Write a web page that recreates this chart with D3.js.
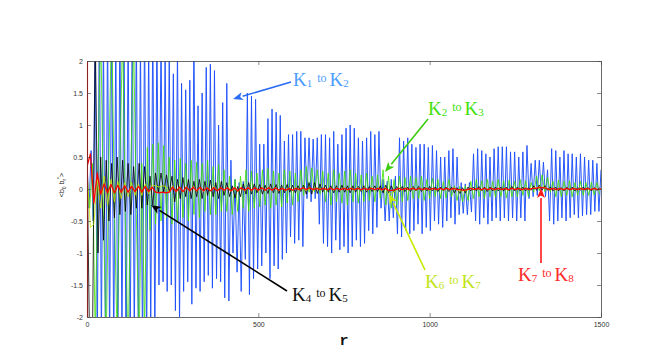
<!DOCTYPE html>
<html>
<head>
<meta charset="utf-8">
<script src="https://cdn.jsdelivr.net/npm/d3@7"></script>
<style>
  body { margin: 0; background: #fff; }
</style>
</head>
<body>
<div id="chart"></div>
<script>
// ---- data: <b_0 b_r*> against r, one array per transition ----
// every series is sampled on a regular r grid (step given next to it)
const blueStep = 6;   // K1 to K2
const blueVals = [
  0.4,-0.3, 0.6,-0.5, 2.4,-2.6, 2.8,-2.4, 2.5,-2.7,
  2.6,-2.5, 2.9,-2.6, 2.4,-2.8, 2.7,-2.4, 2.6,-2.9,
  2.5,-2.6, 2.8,-2.5, 2.6,-2.7, 2.4,-2.6, 2.7,-2.5,
  2.3,-2.2, 2.6,-2.4, 2.5,-1.5, 2.4,-1.45, 2.2,-1.6,
  2.1,-1.5, 1.8,-1.9, 2.2,-2.1, 1.65,-1.6, 1.55,-1.45,
  1.7,-1.8, 2.3,-1.55, 1.3,-1.6, 1.5,-1.45, 1.9,-1.35,
  1.95,-1.55, 1.85,-1.4, 1.0,-1.45, 1.35,-1.7, 1.65,-1.75,
  0.45,-1.0, 0.15,-1.3, 0.1,-1.6, 0.12,-1.1, 1.5,-1.65,
  1.45,-1.4, 1.4,-1.25, 0.7,-1.2, 0.7,-1.0, 1.1,-1.4,
  1.25,-1.2, 1.2,-1.25, 1.15,-1.1, 0.75,-1.0, 0.85,-0.75,
  0.85,-0.85, 0.9,-0.8, 0.9,-0.9, 0.8,-0.15, 0.8,-0.2,
  0.78,-0.15, 0.8,-0.55, 0.85,-0.85, 0.85,-0.9, 0.8,-1.0,
  0.9,-0.8, 0.7,-0.95, 0.85,-0.9, 0.95,-1.0, 1.0,-0.9,
  0.95,-0.8, 0.8,-0.9, 0.75,-0.85, 0.8,-0.65, 0.9,-0.7,
  0.85,-0.6, 0.9,-0.3, 0.15,-0.5, 0.12,-0.5, 0.15,-0.45,
  0.2,-0.7, 0.8,-0.75, 0.75,-0.65, 0.8,-0.7, 0.7,-0.65,
  0.65,-0.55, 0.7,-0.7, 0.7,-0.6, 0.65,-0.65, 0.68,-0.5,
  0.6,-0.55, 0.5,-0.6, 0.5,-0.5, 0.6,-0.45, 0.63,-0.55,
  0.5,-0.4, 0.1,-0.38, 0.08,-0.4, 0.1,-0.36, 0.55,-0.5,
  0.63,-0.55, 0.6,-0.45, 0.55,-0.55, 0.5,-0.5, 0.63,-0.45,
  0.66,-0.5, 0.66,-0.45, 0.66,-0.5, 0.58,-0.45, 0.58,-0.5,
  0.5,-0.45, 0.58,-0.5, 0.68,-0.15, 0.4,-0.12, 0.45,-0.1,
  0.45,-0.1, 0.42,-0.12, 0.3,-0.5, 0.63,-0.55, 0.6,-0.5,
  0.5,-0.45, 0.6,-0.5, 0.55,-0.45, 0.55,-0.4, 0.5,-0.45,
  0.55,-0.42, 0.5,-0.4, 0.45,-0.4, 0.45,-0.35, 0.4,-0.35,
  0.3
];

const greenStep = 8;  // K2 to K3
const greenVals = [
  0.2,-0.3, 0.4,-2.3, 0.3,2.6, -0.4,-2.5, 0.5,2.7,
  -0.3,-2.4, 0.4,2.5, -0.5,-2.6, 0.3,2.4, -0.4,-2.5,
  0.4,-2.2, 0.65,-0.65, 0.7,-0.55, 0.72,-0.5, 0.68,-0.45,
  0.5,-0.55, 0.45,-0.5, 0.48,-0.45, 0.4,-0.5, 0.45,-0.4,
  0.42,-0.45, 0.4,-0.35, 0.45,-0.4, 0.35,-0.4, 0.38,-0.35,
  0.3,-0.35, 0.2,-0.4, 0.15,-0.35, 0.2,-0.3, 0.3,-0.35,
  0.28,-0.3, 0.25,-0.28, 0.3,-0.25, 0.32,-0.3, 0.28,-0.25,
  0.25,-0.28, 0.3,-0.22, 0.28,-0.25, 0.25,-0.2, 0.3,-0.1,
  0.35,-0.05, 0.33,-0.05, 0.3,-0.08, 0.28,-0.2, 0.25,-0.25,
  0.3,-0.2, 0.25,-0.22, 0.28,-0.25, 0.3,-0.2, 0.25,-0.22,
  0.22,-0.2, 0.25,-0.18, 0.2,-0.2, 0.22,-0.15, 0.3,-0.25,
  0.2,-0.3, 0.15,-0.25, 0.2,-0.2, 0.18,-0.18, 0.2,-0.15,
  0.18,-0.15, 0.2,-0.18, 0.15,-0.15, 0.17,-0.12, 0.15,-0.15,
  0.12,-0.14, 0.15,-0.12, 0.05,-0.18, 0.04,-0.2, 0.05,-0.18,
  0.12,-0.15, 0.15,-0.12, 0.13,-0.15, 0.15,-0.12, 0.12,-0.13,
  0.15,-0.12, 0.13,-0.14, 0.14,-0.12, 0.12,-0.12, 0.15,-0.1,
  0.13,-0.12, 0.1,-0.05, 0.2,-0.03, 0.22,-0.04, 0.18,-0.05,
  0.12,-0.12, 0.14,-0.12, 0.12,-0.1, 0.13,-0.12, 0.1,-0.1,
  0.12,-0.1, 0.1,-0.1, 0.11,-0.09, 0.1,-0.08
];

const blackStep = 8;  // K4 to K5
const blackVals = [
  0.6,-2.6, -2.4,2.5, -1.0,0.5, -0.8,0.45, -0.5,0.4,
  -0.45,0.5, -0.4,0.45, -0.35,0.4, -0.4,0.35, -0.3,0.4,
  -0.3,0.35, -0.25,0.2, -0.25,0.25, -0.05,0.25, -0.05,0.22,
  -0.05,0.2, -0.2,0.15, -0.15,0.18, -0.12,0.15, -0.15,0.12,
  -0.12,0.15, -0.15,0.12, -0.1,0.14, -0.12,0.1, -0.15,0.12,
  -0.1,0.1, -0.12,0.05, -0.14,0.04, -0.12,0.08, -0.08,0.1,
  -0.08,0.08, -0.06,0.07, -0.08,0.06, -0.07,0.08, -0.06,0.07,
  -0.07,0.06, -0.06,0.07, -0.05,0.06, -0.06,0.05, -0.04,0.06,
  -0.08,0.1, -0.08,0.1, -0.07,0.08, -0.05,0.06, -0.05,0.05,
  -0.06,0.05, -0.05,0.06, -0.05,0.05, -0.06,0.05, -0.05,0.04,
  -0.04,0.05, -0.05,0.04, -0.04,0.05, -0.04,0.05, -0.06,0.06,
  -0.06,0.05, -0.05,0.04, -0.04,0.04, -0.04,0.03, -0.04,0.04,
  -0.03,0.04, -0.04,0.03, -0.03,0.04, -0.03,0.03, -0.04,0.03,
  -0.03,0.03, -0.04,0.03, -0.06,0.02, -0.07,0.02, -0.06,0.03,
  -0.03,0.03, -0.03,0.04, -0.03,0.03, -0.04,0.03, -0.03,0.03,
  -0.03,0.03, -0.03,0.03, -0.03,0.04, -0.03,0.03, -0.03,0.03,
  -0.03,0.02, -0.02,0.05, -0.02,0.06, -0.02,0.05, -0.02,0.03,
  -0.03,0.03, -0.03,0.02, -0.03,0.03, -0.02,0.03, -0.03,0.02,
  -0.02,0.03, -0.02,0.02, -0.03,0.02, -0.02,0.02
];

const yellowStep = 10; // K6 to K7
const yellowVals = [
  0.3,-0.6,-0.55,0.15,-0.3,0.2,-0.25,0.15,-0.2,0.12,
  -0.15,0.1,-0.12,0.1,-0.1,0.08,-0.1,0.08,-0.08,0.06,
  0.05,0.03,0.05,0.04,-0.06,0.05,-0.05,0.04,-0.05,0.04,
  -0.04,0.04,-0.04,0.03,-0.04,0.03,-0.03,0.04,-0.03,0.03,
  -0.03,0.03,-0.04,0.02,-0.04,0.02,-0.03,0.03,-0.03,0.02,
  -0.03,0.02,-0.02,0.03,-0.02,0.02,-0.03,0.02,-0.02,0.02,
  -0.02,0.02,-0.02,0.02,-0.03,0.03,-0.03,0.03,-0.02,0.02,
  -0.02,0.02,-0.02,0.02,-0.02,0.02,-0.02,0.02,-0.02,0.02,
  -0.02,0.02,-0.02,0.02,-0.02,0.02,-0.03,0.03,-0.08,-0.06,
  -0.03,0.02,-0.02,0.02,-0.02,0.02,-0.02,0.02,-0.02,0.01,
  -0.02,0.01,-0.02,0.01,-0.02,0.01,-0.02,0.01,-0.02,-0.03,
  -0.03,-0.02,0.01,-0.01,0.01,-0.02,0.01,-0.01,0.01,-0.02,
  0.01,-0.01,0.01,-0.02,0.01,-0.01,0.01,-0.02,0.01,-0.01,
  0.01,0.02,0.03,0.03,0.02,-0.01,0.01,-0.02,0.01,-0.01,
  0.01,-0.01,0.01,-0.01,0.01,-0.01,0.01,-0.01,0.01,-0.01,
  0.0
];

const redStep = 10;   // K7 to K8
const redVals = [
  0.35,0.55,-0.22,0.25,-0.08,0.08,-0.06,0.07,-0.06,0.06,
  -0.05,0.05,-0.05,0.04,-0.04,0.04,-0.05,0.04,-0.04,0.03,
  -0.05,-0.06,-0.05,-0.06,-0.05,0.03,-0.04,0.03,-0.04,0.03,
  -0.03,0.03,-0.03,0.03,-0.03,0.02,-0.03,0.02,-0.03,0.02,
  -0.02,0.02,-0.03,0.02,-0.03,0.02,-0.02,0.02,-0.02,0.02,
  -0.02,0.02,-0.02,0.02,-0.02,0.02,-0.02,0.01,-0.02,0.01,
  -0.02,0.01,-0.01,0.02,-0.01,0.02,-0.01,0.01,-0.01,0.01,
  -0.01,0.01,-0.01,0.01,-0.01,0.01,-0.01,0.01,-0.01,0.01,
  -0.01,0.01,-0.01,0.01,-0.01,0.01,-0.01,0.01,-0.02,-0.02,
  -0.01,0.01,-0.01,0.01,-0.01,0.01,-0.01,0.01,-0.01,0.01,
  -0.01,0.01,-0.01,0.01,-0.01,0.01,-0.01,0.01,-0.01,-0.01,
  -0.02,-0.01,0.01,-0.01,0.01,-0.01,0.01,-0.01,0.01,-0.01,
  0.01,-0.01,0.01,-0.01,0.01,-0.01,0.01,-0.01,0.01,-0.01,
  0.01,0.01,0.02,0.02,0.01,-0.01,0.01,-0.01,0.01,-0.01,
  0.01,-0.01,0.01,-0.01,0.01,-0.01,0.01,-0.01,0.01,-0.01,
  0.0
];

const xTicks = [0, 500, 1000, 1500];
const yTicks = [-2, -1.5, -1, -0.5, 0, 0.5, 1, 1.5, 2];

// drawing order follows the original plot: blue first, red on top
const series = [
  { name: 'K1-K2', step: blueStep,   vals: blueVals,   color: '#1f50fa', width: 0.95 },
  { name: 'K2-K3', step: greenStep,  vals: greenVals,  color: '#3fe000', width: 0.8 },
  { name: 'K4-K5', step: blackStep,  vals: blackVals,  color: '#000000', width: 0.8 },
  { name: 'K6-K7', step: yellowStep, vals: yellowVals, color: '#c8ec00', width: 0.8 },
  { name: 'K7-K8', step: redStep,    vals: redVals,    color: '#ff0000', width: 1.3 }
];

// ---- layout ----
const W = 664, H = 353;
const margin = { top: 61, right: 63, bottom: 36, left: 87 };
const innerW = W - margin.left - margin.right;
const innerH = H - margin.top - margin.bottom;

const svg = d3.select('#chart').append('svg')
  .attr('width', W)
  .attr('height', H)
  .style('font-family', '"Liberation Sans", Arial, sans-serif');

const x = d3.scaleLinear().domain([0, 1500]).range([margin.left, margin.left + innerW]);
const y = d3.scaleLinear().domain([-2, 2]).range([margin.top + innerH, margin.top]);

svg.append('defs').append('clipPath').attr('id', 'plotClip')
  .append('rect')
  .attr('x', margin.left).attr('y', margin.top)
  .attr('width', innerW).attr('height', innerH);

// ---- traces ----
const line = d3.line()
  .x(d => x(d[0]))
  .y(d => y(d[1]));

const plot = svg.append('g').attr('clip-path', 'url(#plotClip)');
series.forEach(s => {
  const pts = s.vals.map((v, i) => [i * s.step, v]);
  plot.append('path')
    .datum(pts)
    .attr('fill', 'none')
    .attr('stroke', s.color)
    .attr('stroke-width', s.width)
    .attr('stroke-linejoin', 'round')
    .attr('d', line);
});

// ---- axes (matlab style box, ticks pointing in) ----
const axisColor = '#444';
function styleAxis(g) {
  g.select('.domain').attr('stroke', axisColor).attr('stroke-width', 0.8);
  g.selectAll('.tick line').attr('stroke', axisColor).attr('stroke-width', 0.6);
  g.selectAll('.tick text').attr('fill', '#333').style('font-size', '7px');
}

svg.append('g')
  .attr('transform', `translate(0,${margin.top + innerH})`)
  .call(d3.axisBottom(x).tickValues(xTicks).tickSizeInner(-4).tickSizeOuter(0).tickPadding(5)
    .tickFormat(d3.format('d')))
  .call(styleAxis);

svg.append('g')
  .attr('transform', `translate(0,${margin.top})`)
  .call(d3.axisTop(x).tickValues(xTicks).tickSizeInner(-4).tickSizeOuter(0).tickFormat(''))
  .call(styleAxis);

// the left edge reads dark red in the original (first samples sit on it)
svg.append('g')
  .attr('transform', `translate(${margin.left},0)`)
  .call(d3.axisLeft(y).tickValues(yTicks).tickSizeInner(-4).tickSizeOuter(0).tickPadding(4)
    .tickFormat(d => String(d)))
  .call(styleAxis)
  .call(g => g.select('.domain').attr('stroke', '#8a2424').attr('stroke-width', 1.1));

svg.append('g')
  .attr('transform', `translate(${margin.left + innerW},0)`)
  .call(d3.axisRight(y).tickValues(yTicks).tickSizeInner(-4).tickSizeOuter(0).tickFormat(''))
  .call(styleAxis);

// axis titles
svg.append('text')
  .attr('x', x(750)).attr('y', 345)
  .attr('text-anchor', 'middle')
  .style('font-family', '"Liberation Mono", "DejaVu Sans Mono", monospace')
  .style('font-weight', 'bold')
  .style('font-size', '15px')
  .attr('fill', '#111')
  .text('r');

const yLab = svg.append('text')
  .attr('transform', `translate(64,${y(0) - 4}) rotate(-90)`)
  .attr('text-anchor', 'middle')
  .style('font-size', '7px')
  .attr('fill', '#222');
yLab.append('tspan').text('<b');
yLab.append('tspan').attr('dy', 2).style('font-size', '5px').text('0');
yLab.append('tspan').attr('dy', -2).text(' b');
yLab.append('tspan').attr('dy', 2).style('font-size', '5px').text('r');
yLab.append('tspan').attr('dy', -5).style('font-size', '5px').text('*');
yLab.append('tspan').attr('dy', 3).text('>');

// ---- annotations ----
const notes = [
  { a: 1, b: 2, tx: 293, ty: 86,  color: '#4d9dff', arrow: '#2a6cf2', x1: 291, y1: 82,  x2: 233, y2: 99 },
  { a: 2, b: 3, tx: 428, ty: 115, color: '#44e010', arrow: '#3ccc10', x1: 428, y1: 119, x2: 385, y2: 172 },
  { a: 4, b: 5, tx: 292, ty: 301, color: '#111111', arrow: '#000000', x1: 287, y1: 291, x2: 151, y2: 205 },
  { a: 6, b: 7, tx: 425, ty: 288, color: '#c2e41a', arrow: '#c8ea00', x1: 425, y1: 270, x2: 389, y2: 194 },
  { a: 7, b: 8, tx: 518, ty: 281, color: '#ff2a2a', arrow: '#ff1a1a', x1: 541, y1: 263, x2: 541, y2: 188 }
];

const ann = svg.append('g');
notes.forEach(n => {
  // arrow shaft + head
  const ang = Math.atan2(n.y2 - n.y1, n.x2 - n.x1);
  const hl = 10, hw = 4;
  const bx = n.x2 - hl * Math.cos(ang), by = n.y2 - hl * Math.sin(ang);
  ann.append('line')
    .attr('x1', n.x1).attr('y1', n.y1).attr('x2', bx).attr('y2', by)
    .attr('stroke', n.arrow).attr('stroke-width', 1.6);
  const px = -Math.sin(ang) * hw, py = Math.cos(ang) * hw;
  ann.append('path')
    .attr('d', `M${n.x2},${n.y2}L${bx + px},${by + py}L${bx + hl * 0.25 * Math.cos(ang)},${by + hl * 0.25 * Math.sin(ang)}L${bx - px},${by - py}Z`)
    .attr('fill', n.arrow);

  // label "K_a to K_b"
  const t = ann.append('text')
    .attr('x', n.tx).attr('y', n.ty)
    .attr('fill', n.color)
    .style('font-family', '"Liberation Serif", "DejaVu Serif", serif');
  t.append('tspan').style('font-size', '19px').text('K');
  t.append('tspan').attr('y', n.ty + 1).style('font-size', '11px').text(n.a);
  t.append('tspan').attr('y', n.ty - 4).attr('dx', 5).style('font-size', '12px').text('to');
  t.append('tspan').attr('y', n.ty).attr('dx', 3).style('font-size', '19px').text('K');
  t.append('tspan').attr('y', n.ty + 1).style('font-size', '11px').text(n.b);
});
</script>
</body>
</html>
